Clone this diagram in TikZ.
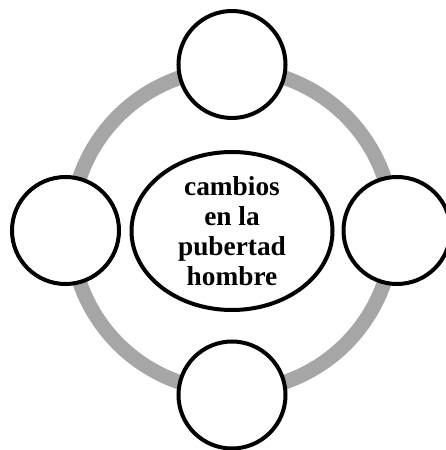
\documentclass[tikz,border=0pt]{standalone}
\usepackage{fontspec}
\setmainfont{Liberation Serif}
\usepackage{tikz}
\usetikzlibrary{shapes.geometric}

\begin{document}
\begin{tikzpicture}
                            [x=0.75pt,y=0.75pt,
                            anillo/.style = {draw=black!35,
                                        line width = 11pt},
                            etapa/.style = {circle, draw, fill=white,
                                        line width = 3pt,
                                        minimum size = 80.25pt},
                            tema/.style = {ellipse, draw, fill=white,
                                        line width = 3pt,
                                        minimum width = 150.75pt,
                                        minimum height = 118.5pt,
                                        align = center, inner sep = 0pt,
                                        font = \bfseries\fontsize{20.5}{22.5}\selectfont}]
                            \useasboundingbox (0,0) rectangle (446,450);
                            % Anillo gris
                            \coordinate (O) at (232,220);
                            \draw[anillo] (O) circle (161);
                            % Tema central
                            \node[tema] (T) at (232,219) {cambios\\en la\\pubertad\\hombre};
                            % Circulos alrededor
                            \node[etapa] (N) at (232,385.5) {};
                            \node[etapa] (W) at (65.5,219.5) {};
                            \node[etapa] (E) at (397,219.5) {};
                            \node[etapa] (S) at (232,55) {};
                        \end{tikzpicture}
\end{document}
